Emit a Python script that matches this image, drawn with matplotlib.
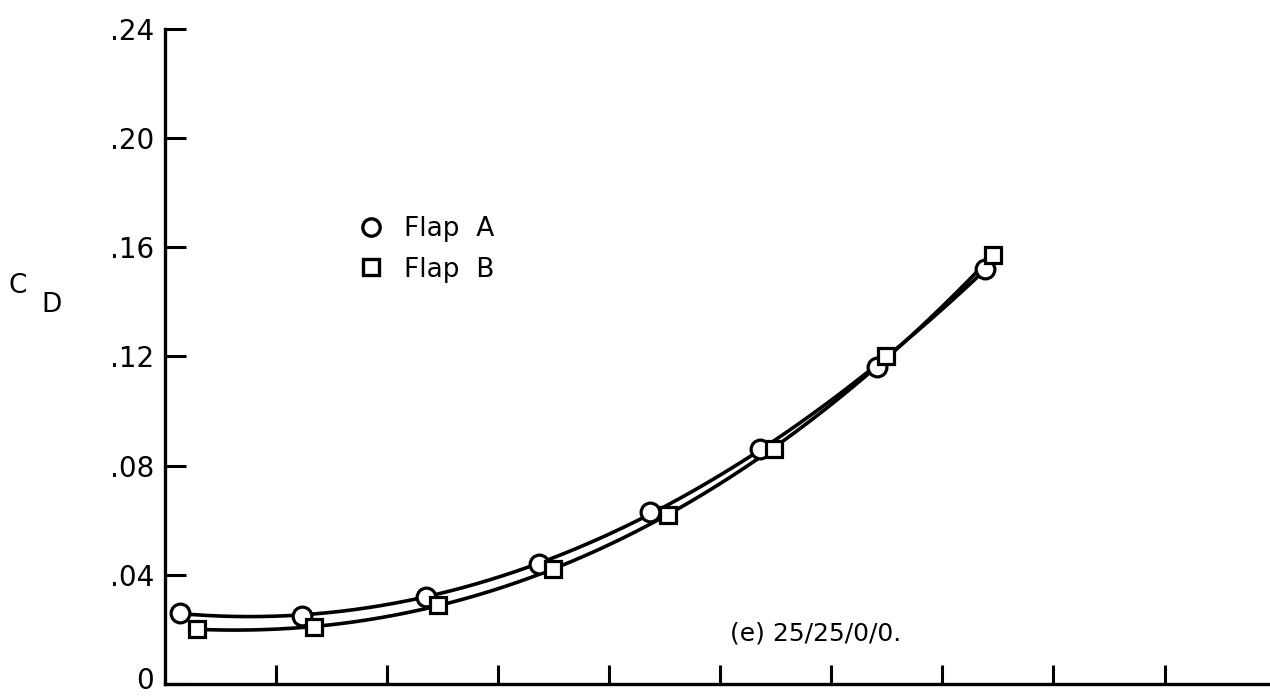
import numpy as np
import matplotlib
matplotlib.use("Agg")
import matplotlib.pyplot as plt
from matplotlib.lines import Line2D
from matplotlib.transforms import ScaledTranslation

plt.rcParams['font.family'] = ['DejaVu Sans']

# Lift coefficient positions (axis units, ticks unlabeled) and drag coefficients
flap_a_x = [0.13, 1.23, 2.35, 3.37, 4.37, 5.36, 6.41, 7.38]
flap_a_cd = [0.026, 0.025, 0.032, 0.044, 0.063, 0.086, 0.116, 0.152]
flap_b_x = [0.29, 1.34, 2.46, 3.49, 4.53, 5.48, 6.49, 7.46]
flap_b_cd = [0.020, 0.021, 0.029, 0.042, 0.062, 0.086, 0.120, 0.157]

y_ticks = [0, 0.04, 0.08, 0.12, 0.16, 0.20, 0.24]
y_tick_labels = ['0', '.04', '.08', '.12', '.16', '.20', '.24']
x_ticks = [1, 2, 3, 4, 5, 6, 7, 8, 9]

fig = plt.figure(figsize=(12.7, 6.98), dpi=100)
ax = fig.add_axes([0.130, 0.0201, 0.870, 0.9384])

lw = 2.6
for xs, ys, mk, ms in [(flap_a_x, flap_a_cd, 'o', 13.5), (flap_b_x, flap_b_cd, 's', 12)]:
    xs = np.asarray(xs)
    ys = np.asarray(ys)
    coef = np.polyfit(xs, ys, 3)
    xf = np.linspace(xs.min(), xs.max(), 300)
    ax.plot(xf, np.polyval(coef, xf), color='black', lw=lw, zorder=2,
            solid_capstyle='round')
    ax.plot(xs, ys, linestyle='none', marker=mk, ms=ms, mfc='white',
            mec='black', mew=2.3, zorder=3)

ax.set_xlim(0, 9.95)
ax.set_ylim(0, 0.24)
ax.set_xticks(x_ticks)
ax.set_xticklabels([])
ax.set_yticks(y_ticks)
ax.set_yticklabels(y_tick_labels)

for s in ['top', 'right']:
    ax.spines[s].set_visible(False)
for s in ['left', 'bottom']:
    ax.spines[s].set_linewidth(2.4)
ax.spines['bottom'].set_bounds(0, 9.95)

ax.tick_params(axis='both', direction='in', length=15, width=2.2,
               labelsize=20, pad=8)
ax.tick_params(axis='x', length=14)

# lift the zero label slightly so it stays inside the figure
zero_label = ax.get_yticklabels()[0]
zero_label.set_transform(zero_label.get_transform()
                         + ScaledTranslation(0, 4 / 72, fig.dpi_scale_trans))

# C_D axis label
fig.text(18 / 1270, 1 - 286 / 698, 'C', fontsize=19, ha='center', va='center')
fig.text(52 / 1270, 1 - 305 / 698, 'D', fontsize=19, ha='center', va='center')

# legend
handles = [
    Line2D([], [], linestyle='none', marker='o', ms=12.5, mfc='white', mec='black', mew=2.4),
    Line2D([], [], linestyle='none', marker='s', ms=11, mfc='white', mec='black', mew=2.4),
]
leg = ax.legend(handles, ['Flap  A', 'Flap  B'], loc='upper left',
                bbox_to_anchor=(360 / 1270, 1 - 216 / 698), bbox_transform=fig.transFigure,
                frameon=False, fontsize=19, handlelength=0.8, handletextpad=0.85,
                labelspacing=0.55, borderpad=0, borderaxespad=0)

fig.text(730 / 1270, 1 - 634 / 698, '(e) 25/25/0/0.', fontsize=18,
         ha='left', va='center')

fig.savefig('out.png', dpi=100)
